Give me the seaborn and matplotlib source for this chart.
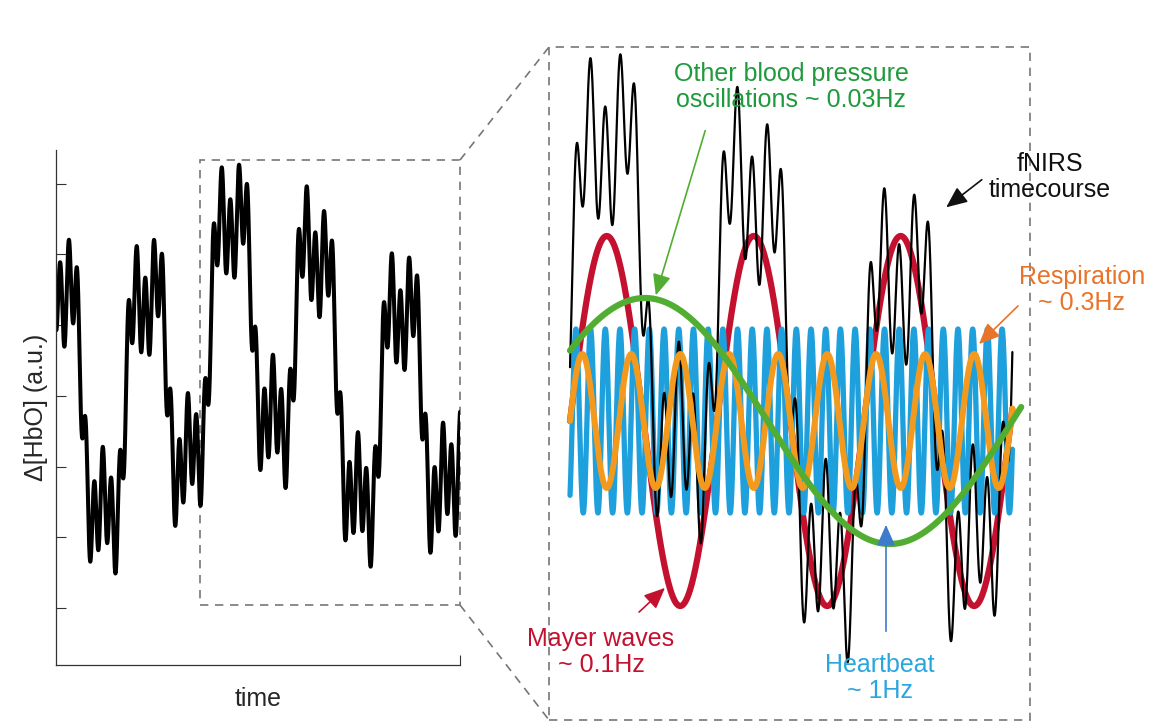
import numpy as np
import matplotlib
matplotlib.use("Agg")
import matplotlib.pyplot as plt
from matplotlib.patches import Rectangle, FancyArrowPatch
from matplotlib.lines import Line2D
import seaborn as sns

# physiological components: name, frequency (Hz), amplitude (a.u.), phase (rad)
comp_names = ["Other blood pressure", "Mayer waves", "Respiration", "Heartbeat"]
comp_freq = [0.03, 0.1, 0.3, 1.0]
comp_amp = [1.23, 1.85, 0.67, 0.92]
comp_phase = [0.61, 0.0, 0.0, -0.94]
comp_colors = ["#52AE32", "#C3112F", "#F39A1E", "#1EA0DC"]
comp_text_colors = ["#1F9A3C", "#C3112F", "#E8742A", "#2AA6DF"]

# weights of each component inside the measured fNIRS timecourse
fnirs_weight = [0.6, 1.0, 1.0, 0.72]
fnirs_offset = 0.65

t_zoom = (0.0, 30.1)      # seconds shown in the zoomed panel
zoom_xlim = (-1.43, 31.3)
zoom_ylim = (-2.99, 3.74)
full_xlim = (-18.1, 29.4)
full_ylim = (-3.9, 3.89)
box_start = -1.18


def component(i, t):
    return comp_amp[i] * np.sin(2 * np.pi * comp_freq[i] * t + comp_phase[i])


def fnirs(t):
    return fnirs_offset + sum(fnirs_weight[i] * component(i, t) for i in range(4))


sns.set_theme(style="white")
plt.rcParams["font.family"] = ["Liberation Sans", "DejaVu Sans"]

fig = plt.figure(figsize=(11.51, 7.21), dpi=100)
W, H = 1151, 721


def px_axes(x0, y0, x1, y1):
    return fig.add_axes([x0 / W, 1 - y1 / H, (x1 - x0) / W, (y1 - y0) / H])


def fig_xy(x, y):
    return (x / W, 1 - y / H)


# ---- left: full timecourse ----
ax1 = px_axes(56, 150, 460, 665)
t_full = np.linspace(full_xlim[0], full_xlim[1], 4000)
sns.lineplot(x=t_full, y=fnirs(t_full), ax=ax1, color="black", linewidth=2.9,
             estimator=None, sort=False)
ax1.set_xlim(full_xlim)
ax1.set_ylim(full_ylim)
ax1.set_yticks(np.linspace(3.38, -3.04, 7))
ax1.set_yticklabels([])
ax1.set_xticks([full_xlim[1]])
ax1.set_xticklabels([])
ax1.tick_params(axis="both", direction="in", length=7, width=0.8, color="#333333",
                left=True, bottom=True)
for s in ["top", "right"]:
    ax1.spines[s].set_visible(False)
for s in ["left", "bottom"]:
    ax1.spines[s].set_color("#333333")
    ax1.spines[s].set_linewidth(0.9)
ax1.set_xlabel("time", fontsize=18, labelpad=12)
ax1.set_ylabel("Δ[HbO] (a.u.)", fontsize=18, labelpad=2)
ax1.add_patch(Rectangle((box_start, zoom_ylim[0]),
                        full_xlim[1] - box_start, zoom_ylim[1] - zoom_ylim[0],
                        fill=False, ls=(0, (5, 4)), lw=1.2, ec="#777777", clip_on=False))

# ---- right: zoom with components ----
ax2 = px_axes(549, 47, 1030, 720)
t = np.linspace(t_zoom[0], t_zoom[1], 3000)
t_green = np.linspace(t_zoom[0], 30.7, 3000)
sns.lineplot(x=t, y=component(1, t), ax=ax2, color=comp_colors[1], linewidth=4.5,
             estimator=None, sort=False)
sns.lineplot(x=t, y=component(3, t), ax=ax2, color=comp_colors[3], linewidth=3.8,
             estimator=None, sort=False)
sns.lineplot(x=t, y=fnirs(t), ax=ax2, color="black", linewidth=1.6,
             estimator=None, sort=False)
sns.lineplot(x=t, y=component(2, t), ax=ax2, color=comp_colors[2], linewidth=4.3,
             estimator=None, sort=False)
sns.lineplot(x=t_green, y=component(0, t_green), ax=ax2, color=comp_colors[0],
             linewidth=4.5, estimator=None, sort=False)
ax2.set_xlim(zoom_xlim)
ax2.set_ylim(zoom_ylim)
ax2.axis("off")
ax2.add_patch(Rectangle((0, 0), 1, 1, transform=ax2.transAxes, fill=False,
                        ls=(0, (5, 4)), lw=1.2, ec="#777777", clip_on=False))

# connector lines between the two boxes
for (xa, ya), (xb, yb) in [((460, 160), (549, 47)), ((460, 605), (549, 720))]:
    fig.add_artist(Line2D([xa / W, xb / W], [1 - ya / H, 1 - yb / H],
                          ls=(0, (5, 4)), lw=1.2, color="#777777"))

labels = [
    ("Other blood pressure\noscillations ~ 0.03Hz", (791, 87), comp_text_colors[0],
     (706, 128), (655, 298), comp_colors[0]),
    ("Mayer waves\n~ 0.1Hz", (601, 652), comp_text_colors[1],
     (637, 614), (667, 586), comp_text_colors[1]),
    ("Heartbeat\n~ 1Hz", (880, 678), comp_text_colors[3],
     (886, 634), (886, 522), "#3D7CC9"),
    ("Respiration\n~ 0.3Hz", (1082, 290), comp_text_colors[2],
     (1020, 304), (977, 346), "#E8742A"),
    ("fNIRS\ntimecourse", (1050, 177), "#111111",
     (984, 178), (944, 209), "#111111"),
]
for text, (tx, ty), tcol, (ax0, ay0), (ax_, ay_), acol in labels:
    fig.text(*fig_xy(tx, ty), text, color=tcol, fontsize=18, ha="center",
             va="center", linespacing=1.15)
    fig.add_artist(FancyArrowPatch(
        fig_xy(ax0, ay0), fig_xy(ax_, ay_), transform=fig.transFigure,
        arrowstyle="-|>,head_length=8,head_width=3.5", mutation_scale=1.6,
        color=acol, lw=1.2))

fig.savefig("out.png", dpi=100, facecolor="white")
